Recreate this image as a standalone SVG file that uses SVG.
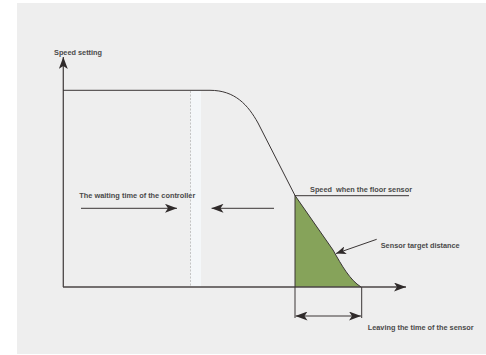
<svg xmlns="http://www.w3.org/2000/svg" width="486" height="355" viewBox="0 0 486 355">
<defs>
<marker id="ah" markerWidth="12" markerHeight="9" refX="12" refY="4.5" orient="auto" markerUnits="userSpaceOnUse">
<path d="M0,0 L12,4.5 L0,9 L3,4.5 Z" fill="#2f2a2a"/>
</marker>
<marker id="ahs" markerWidth="10" markerHeight="8" refX="10" refY="4" orient="auto" markerUnits="userSpaceOnUse">
<path d="M0,0 L10,4 L0,8 L2.5,4 Z" fill="#2f2a2a"/>
</marker>
</defs>
<style>
.t{font-family:"Liberation Sans",Arial,sans-serif;font-size:7px;font-weight:bold;fill:#4a4a4a;white-space:pre}
.ln{stroke:#3a3535;stroke-width:1;fill:none}
.ax{stroke:#4a4545;stroke-width:1.3;fill:none}
</style>
<rect x="0" y="0" width="486" height="355" fill="#ffffff"/>
<rect x="17" y="3" width="469" height="351" fill="#eeeeee"/>
<g id="strip">
<rect x="190.5" y="90.5" width="10.5" height="196.5" fill="#f4f7f9"/>
<line x1="190.5" y1="91" x2="190.5" y2="287" stroke="#b9b9b9" stroke-width="0.8" stroke-dasharray="2,1.5"/>
</g>
<g id="area">
<path d="M295,195.5 L333,250 C342,266 350,280 361,287 L295,287 Z" fill="#86a35a"/>
</g>
<g id="connectors">
<line class="ax" x1="63.3" y1="287" x2="63.3" y2="57" marker-end="url(#ah)"/>
<line class="ax" x1="63" y1="287" x2="406" y2="287" marker-end="url(#ah)"/>
<path class="ln" d="M63,90.3 L210,90.3 C235,90.3 248,105 258,123 L295,195.5 L333,250 C342,266 350,280 361,287"/>
<line class="ln" x1="295" y1="195.7" x2="409" y2="195.7"/>
<line class="ln" x1="295" y1="195" x2="295" y2="318" stroke="#555"/>
<line class="ln" x1="361.7" y1="287" x2="361.7" y2="318"/>
<line class="ln" x1="81" y1="208.3" x2="177" y2="208.3" marker-end="url(#ah)"/>
<line class="ln" x1="274" y1="208.3" x2="211.5" y2="208.3" marker-end="url(#ah)"/>
<line class="ln" x1="328" y1="316" x2="295.5" y2="316" marker-end="url(#ah)"/>
<line class="ln" x1="328" y1="316" x2="361" y2="316" marker-end="url(#ah)"/>
<line class="ln" x1="376.7" y1="239.3" x2="336" y2="253.5" marker-end="url(#ahs)"/>
</g>
<g id="label-speed-setting"><text class="t" x="54" y="54.8" textLength="48" lengthAdjust="spacingAndGlyphs">Speed setting</text></g>
<g id="label-waiting"><text class="t" x="79.3" y="197.6" textLength="116" lengthAdjust="spacingAndGlyphs">The waiting time of the controller</text></g>
<g id="label-floor-sensor"><text class="t" x="310" y="192.4" textLength="102" lengthAdjust="spacingAndGlyphs">Speed  when the floor sensor</text></g>
<g id="label-target"><text class="t" x="380.7" y="247.6" textLength="79" lengthAdjust="spacingAndGlyphs">Sensor target distance</text></g>
<g id="label-leaving"><text class="t" x="367.7" y="329.6" textLength="106" lengthAdjust="spacingAndGlyphs">Leaving the time of the sensor</text></g>
</svg>
